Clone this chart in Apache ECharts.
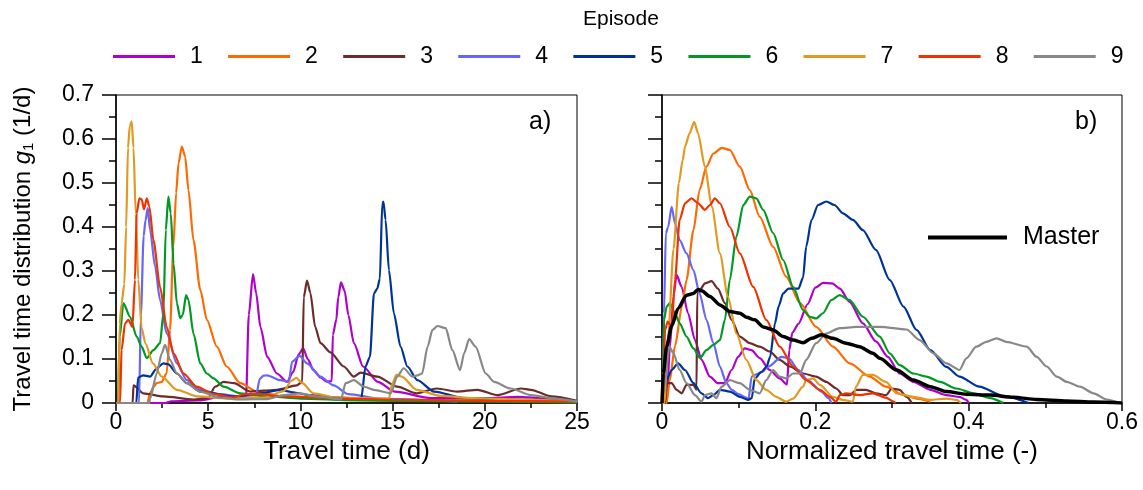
<!DOCTYPE html>
<html>
<head>
<meta charset="UTF-8">
<title>Travel time distributions</title>
<script src="https://cdn.jsdelivr.net/npm/echarts@6/dist/echarts.min.js"></script>
<style>
  html,body{margin:0;height:100%;background:#fff;}
  #chart{width:1143px;height:490px;}
</style>
</head>
<body>
<div id="chart"></div>
<script>
// episode names and colours
const episodes = ['1','2','3','4','5','6','7','8','9'];
const colors = ['#B000CC','#FF6A00','#6E2B2B','#6666FF','#003399','#009922','#E09A22','#EE3300','#888888'];

// panel a) travel time (d) vs g1 (1/d)
const ep1a = [[0,0],[2.7,0],[3,0.004],[4.5,0.006],[5.8,0.015],[6.5,0.015],[7.05,0.01],[7.2,0.2],[7.43,0.293],[7.6,0.25],[7.83,0.173],[8.2,0.105],[8.73,0.067],[9.28,0.048],[9.6,0.07],[9.9,0.11],[10.15,0.124],[10.4,0.1],[10.7,0.075],[11.1,0.058],[11.45,0.048],[11.7,0.05],[11.76,0.155],[11.95,0.19],[12.05,0.24],[12.2,0.274],[12.4,0.255],[12.6,0.2],[12.9,0.136],[13.4,0.083],[14.2,0.048],[15.1,0.026],[17.1,0.011],[20,0.011],[21.8,0.014],[23.4,0.01],[25,0.004]];
const ep2a = [[0,0],[1.7,0],[1.85,0.023],[2.05,0.037],[2.2,0.045],[2.48,0.048],[2.75,0.068],[2.93,0.166],[3.11,0.355],[3.26,0.477],[3.39,0.545],[3.57,0.583],[3.75,0.56],[3.93,0.484],[4.2,0.37],[4.57,0.257],[4.93,0.189],[5.47,0.128],[6.0,0.083],[6.74,0.045],[7.65,0.026],[9.1,0.015],[12,0.01],[16,0.007],[20,0.005],[25,0.002]];
const ep3a = [[0,0],[0.9,0],[0.95,0.04],[1.48,0.022],[2.57,0.015],[4.2,0.008],[5.0,0.012],[5.38,0.037],[5.83,0.048],[6.4,0.045],[7.28,0.026],[8.0,0.028],[8.73,0.03],[9.8,0.04],[10.1,0.048],[10.18,0.24],[10.36,0.278],[10.54,0.25],[10.8,0.173],[11.09,0.136],[11.63,0.115],[12.35,0.083],[12.9,0.06],[13.26,0.069],[14.17,0.06],[15.25,0.037],[16.3,0.022],[17.4,0.033],[18.5,0.026],[19.6,0.03],[20.7,0.018],[21.96,0.033],[22.5,0.03],[23.6,0.015],[25,0.005]];
const ep4a = [[0,0],[1.25,0],[1.35,0.2],[1.5,0.38],[1.6,0.415],[1.72,0.443],[1.85,0.393],[2.12,0.31],[2.39,0.234],[2.75,0.158],[3.3,0.09],[3.84,0.052],[4.57,0.03],[5.65,0.02],[6.74,0.015],[7.6,0.018],[7.8,0.055],[8.0,0.062],[8.2,0.063],[8.9,0.052],[9.37,0.048],[9.55,0.094],[9.96,0.107],[10.36,0.09],[11.09,0.06],[11.8,0.04],[12.6,0.02],[14.3,0.01],[17.8,0.005],[18.5,0.003]];
const ep5a = [[0,0],[1.1,0],[1.2,0.058],[1.48,0.063],[1.85,0.06],[2.21,0.079],[2.57,0.09],[2.84,0.088],[3.3,0.067],[3.84,0.045],[4.57,0.026],[6.4,0.015],[7.83,0.022],[8.9,0.03],[9.5,0.025],[10.5,0.018],[12,0.012],[13.3,0.01],[13.53,0.083],[13.77,0.105],[13.99,0.249],[14.17,0.26],[14.31,0.283],[14.44,0.454],[14.5,0.458],[14.62,0.416],[14.8,0.302],[15.07,0.204],[15.43,0.128],[15.8,0.083],[16.34,0.052],[17.25,0.026],[18.9,0.011],[21.6,0.008],[25,0.004]];
const ep6a = [[0,0],[0.1,0],[0.2,0.15],[0.4,0.227],[0.76,0.196],[1.12,0.151],[1.39,0.128],[1.67,0.102],[2.03,0.12],[2.39,0.136],[2.57,0.204],[2.7,0.393],[2.84,0.469],[2.97,0.431],[3.12,0.317],[3.3,0.227],[3.48,0.193],[3.62,0.2],[3.8,0.245],[3.93,0.234],[4.2,0.158],[4.57,0.09],[4.93,0.067],[5.29,0.056],[5.83,0.037],[6.74,0.022],[8.2,0.015],[10,0.01],[13,0.006],[17,0.004],[25,0.001]];
const ep7a = [[0,0],[0.12,0],[0.2,0.18],[0.3,0.225],[0.45,0.27],[0.55,0.4],[0.65,0.58],[0.75,0.63],[0.85,0.64],[0.95,0.58],[1.07,0.43],[1.21,0.28],[1.39,0.17],[1.6,0.135],[2.0,0.09],[2.48,0.06],[3.3,0.03],[4.4,0.015],[6,0.01],[8,0.012],[9.1,0.027],[9.5,0.05],[9.78,0.057],[10.1,0.045],[10.7,0.022],[12,0.012],[14.8,0.01],[14.95,0.04],[15.2,0.064],[15.5,0.06],[16.3,0.03],[17.6,0.016],[19.4,0.011],[22,0.008],[25,0.004]];
const ep8a = [[0,0],[0.22,0],[0.3,0.12],[0.49,0.181],[0.67,0.189],[0.89,0.173],[1.03,0.28],[1.12,0.431],[1.27,0.465],[1.39,0.463],[1.52,0.44],[1.67,0.465],[1.81,0.446],[2.03,0.37],[2.39,0.264],[2.75,0.173],[3.12,0.113],[3.66,0.067],[4.38,0.037],[5.29,0.02],[6.37,0.013],[7.0,0.02],[7.8,0.02],[9,0.015],[12,0.01],[16,0.007],[20,0.005],[25,0.003]];
const ep9a = [[0,0],[1.8,0],[1.85,0.01],[2.21,0.067],[2.48,0.113],[2.66,0.132],[2.93,0.098],[3.3,0.067],[3.84,0.045],[4.57,0.026],[5.65,0.012],[6.74,0.008],[8.2,0.009],[9.1,0.018],[10,0.022],[10.9,0.015],[12.2,0.008],[12.45,0.045],[12.9,0.052],[13.44,0.037],[13.99,0.03],[14.9,0.022],[15.25,0.06],[15.6,0.079],[16.07,0.06],[16.34,0.063],[16.6,0.067],[16.9,0.128],[17.16,0.166],[17.43,0.175],[17.88,0.17],[18.24,0.12],[18.66,0.075],[18.88,0.113],[19.15,0.145],[19.5,0.128],[20.05,0.067],[20.5,0.048],[21.4,0.033],[22.5,0.018],[23.8,0.01],[25,0.003]];

// panel b) normalized travel time (-) vs g1
const ep1b = [[0,0],[0.006,0],[0.0104,0.128],[0.015,0.242],[0.019,0.291],[0.0256,0.264],[0.034,0.204],[0.043,0.143],[0.0516,0.098],[0.0625,0.06],[0.073,0.045],[0.082,0.045],[0.0907,0.075],[0.0993,0.105],[0.108,0.124],[0.1167,0.12],[0.1275,0.102],[0.1406,0.075],[0.1536,0.056],[0.163,0.042],[0.166,0.12],[0.17,0.16],[0.178,0.18],[0.19,0.225],[0.2,0.262],[0.21,0.273],[0.222,0.272],[0.232,0.26],[0.2447,0.23],[0.262,0.181],[0.279,0.14],[0.2946,0.105],[0.31,0.067],[0.328,0.048],[0.35,0.03],[0.371,0.018],[0.388,0.014],[0.397,0.007],[0.4,0]];
const ep2b = [[0,0],[0.006,0],[0.01,0.05],[0.017,0.13],[0.026,0.22],[0.032,0.28],[0.041,0.393],[0.049,0.484],[0.058,0.537],[0.067,0.567],[0.078,0.58],[0.0885,0.575],[0.1015,0.537],[0.1145,0.484],[0.1275,0.423],[0.145,0.355],[0.162,0.287],[0.18,0.227],[0.201,0.173],[0.223,0.128],[0.245,0.09],[0.271,0.06],[0.292,0.037],[0.315,0.018],[0.332,0.01],[0.35,0.003]];
const ep3b = [[0,0],[0.004,0],[0.006,0.045],[0.0126,0.045],[0.019,0.03],[0.0256,0.022],[0.032,0.041],[0.041,0.041],[0.045,0.03],[0.046,0.25],[0.0495,0.257],[0.056,0.272],[0.0646,0.277],[0.073,0.26],[0.082,0.227],[0.0907,0.189],[0.1015,0.151],[0.1145,0.136],[0.1275,0.128],[0.1406,0.117],[0.1536,0.098],[0.1666,0.083],[0.184,0.067],[0.201,0.06],[0.2143,0.048],[0.2273,0.033],[0.236,0.018],[0.245,0.018],[0.2534,0.03],[0.266,0.03],[0.279,0.022],[0.2925,0.018],[0.2996,0.033],[0.31,0.03],[0.319,0.014],[0.326,0]];
const ep4b = [[0,0],[0.001,0],[0.0026,0.204],[0.005,0.386],[0.008,0.4],[0.0126,0.446],[0.017,0.408],[0.023,0.37],[0.032,0.34],[0.041,0.302],[0.049,0.249],[0.058,0.189],[0.067,0.136],[0.0755,0.083],[0.084,0.045],[0.091,0.03],[0.1,0.02],[0.11,0.012],[0.1126,0.007],[0.117,0.06],[0.121,0.064],[0.13,0.07],[0.139,0.083],[0.156,0.105],[0.165,0.102],[0.178,0.075],[0.19,0.052],[0.208,0.026],[0.217,0.011],[0.221,0]];
const ep5b = [[0,0],[0.002,0],[0.006,0.052],[0.0126,0.075],[0.021,0.09],[0.03,0.075],[0.041,0.045],[0.0516,0.022],[0.06,0.011],[0.067,0.018],[0.0755,0.03],[0.0885,0.026],[0.1015,0.014],[0.1124,0.007],[0.117,0.011],[0.121,0.056],[0.13,0.071],[0.1365,0.083],[0.141,0.105],[0.1474,0.181],[0.152,0.219],[0.158,0.249],[0.165,0.26],[0.178,0.26],[0.184,0.285],[0.188,0.355],[0.195,0.416],[0.2035,0.45],[0.2143,0.458],[0.225,0.45],[0.236,0.431],[0.249,0.416],[0.262,0.393],[0.279,0.348],[0.297,0.28],[0.315,0.219],[0.332,0.166],[0.35,0.12],[0.371,0.082],[0.388,0.06],[0.414,0.037],[0.445,0.016],[0.478,0]];
const ep6b = [[0,0],[0.001,0],[0.0026,0.189],[0.006,0.219],[0.0104,0.227],[0.017,0.204],[0.023,0.181],[0.032,0.151],[0.041,0.124],[0.0495,0.102],[0.058,0.12],[0.067,0.132],[0.0755,0.143],[0.082,0.189],[0.0885,0.28],[0.097,0.378],[0.106,0.45],[0.1145,0.469],[0.123,0.465],[0.132,0.439],[0.145,0.386],[0.158,0.325],[0.171,0.264],[0.184,0.211],[0.1926,0.196],[0.201,0.192],[0.21,0.204],[0.2208,0.234],[0.2317,0.245],[0.2447,0.234],[0.262,0.196],[0.284,0.151],[0.297,0.113],[0.31,0.086],[0.328,0.067],[0.345,0.06],[0.3626,0.048],[0.384,0.033],[0.406,0.022],[0.428,0.011],[0.445,0]];
const ep7b = [[0,0],[0.003,0],[0.008,0.15],[0.015,0.35],[0.022,0.5],[0.027,0.552],[0.03,0.583],[0.036,0.613],[0.042,0.639],[0.047,0.613],[0.056,0.537],[0.065,0.446],[0.0755,0.34],[0.086,0.242],[0.097,0.158],[0.11,0.098],[0.123,0.052],[0.136,0.03],[0.149,0.014],[0.162,0.003],[0.171,0.01],[0.184,0.037],[0.188,0.052],[0.197,0.056],[0.206,0.041],[0.223,0.014],[0.236,0.007],[0.249,0.003],[0.253,0.037],[0.262,0.064],[0.275,0.064],[0.292,0.048],[0.306,0.022],[0.328,0.014],[0.35,0.007],[0.371,0.01],[0.384,0.007],[0.39,0]];
const ep8b = [[0,0],[0.001,0],[0.004,0.166],[0.0074,0.185],[0.0126,0.173],[0.017,0.28],[0.023,0.416],[0.03,0.454],[0.0386,0.465],[0.047,0.454],[0.056,0.439],[0.0625,0.45],[0.069,0.465],[0.0755,0.454],[0.0885,0.4],[0.1015,0.34],[0.119,0.264],[0.136,0.189],[0.1536,0.128],[0.171,0.083],[0.188,0.052],[0.206,0.03],[0.219,0.014],[0.227,0.003],[0.232,0.018],[0.24,0.022],[0.258,0.018],[0.275,0.022],[0.292,0.012],[0.302,0.003],[0.305,0]];
const ep9b = [[0,0],[0.004,0.052],[0.0095,0.128],[0.015,0.113],[0.023,0.075],[0.032,0.045],[0.043,0.018],[0.0516,0.003],[0.056,0.018],[0.0646,0.022],[0.071,0.011],[0.0777,0.037],[0.0885,0.052],[0.1015,0.045],[0.1145,0.03],[0.1275,0.022],[0.136,0.052],[0.145,0.075],[0.1536,0.06],[0.162,0.056],[0.171,0.067],[0.18,0.067],[0.188,0.098],[0.201,0.136],[0.2143,0.158],[0.2317,0.17],[0.2534,0.173],[0.284,0.173],[0.319,0.167],[0.336,0.143],[0.354,0.113],[0.371,0.09],[0.388,0.075],[0.397,0.1015],[0.41,0.128],[0.423,0.139],[0.4365,0.147],[0.449,0.139],[0.4757,0.128],[0.4887,0.105],[0.5017,0.083],[0.515,0.06],[0.528,0.048],[0.545,0.037],[0.563,0.022],[0.58,0.008],[0.5976,0]];
const master = [[0,0],[0.0017,0.067],[0.006,0.128],[0.0126,0.175],[0.021,0.215],[0.032,0.245],[0.041,0.249],[0.047,0.258],[0.0516,0.255],[0.0625,0.242],[0.0755,0.223],[0.0885,0.208],[0.1015,0.204],[0.11,0.195],[0.121,0.189],[0.132,0.173],[0.145,0.166],[0.158,0.151],[0.171,0.143],[0.184,0.137],[0.195,0.147],[0.2078,0.155],[0.223,0.147],[0.24,0.136],[0.2577,0.128],[0.275,0.113],[0.284,0.1015],[0.306,0.075],[0.328,0.052],[0.35,0.037],[0.371,0.026],[0.397,0.02],[0.428,0.018],[0.458,0.013],[0.489,0.008],[0.528,0.0045],[0.5626,0.002],[0.6,0]];

const panelA = [ep1a,ep2a,ep3a,ep4a,ep5a,ep6a,ep7a,ep8a,ep9a];
const panelB = [ep1b,ep2b,ep3b,ep4b,ep5b,ep6b,ep7b,ep8b,ep9b];

const chart = echarts.init(document.getElementById('chart'));
const FONT = 'Liberation Sans, Arial, sans-serif';

function lineSeries(name, data, idx, color, width){
  return {
    name, type:'line', xAxisIndex:idx, yAxisIndex:idx, data,
    showSymbol:false, symbol:'none', smooth:0.25, smoothMonotone:'x',
    lineStyle:{color, width}, itemStyle:{color}, animation:false
  };
}

const series = [];
episodes.forEach((e,i)=>series.push(lineSeries(e, panelA[i], 0, colors[i], 2.2)));
episodes.forEach((e,i)=>series.push(lineSeries(e, panelB[i], 1, colors[i], 2.2)));
series.push(lineSeries('Master', master, 1, '#000', 3.5));

const axisCommon = {
  axisLine:{onZero:false, lineStyle:{color:'#000', width:1.5}},
  axisTick:{inside:false, length:14, lineStyle:{color:'#000', width:1.5}},
  minorTick:{show:true, splitNumber:2, length:7, lineStyle:{color:'#000', width:1.5}},
  splitLine:{show:false},
  axisLabel:{color:'#000', fontSize:23, fontFamily:FONT}
};
// x axes: shorter ticks so they stay clear of the labels
const xTicks = {
  axisTick:{inside:false, length:8, lineStyle:{color:'#000', width:1.5}},
  minorTick:{show:true, splitNumber:2, length:5, lineStyle:{color:'#000', width:1.5}}
};
const titleStyle = {fontSize:26, color:'#000', fontFamily:FONT};

chart.setOption({
  backgroundColor:'#fff',
  textStyle:{fontFamily:FONT},
  graphic:[
    {type:'text', left:583, top:9, style:{text:'Episode', fontSize:21, fontFamily:FONT, fill:'#000'}},
    {type:'text', left:529, top:110, style:{text:'a)', fontSize:25, fontFamily:FONT, fill:'#000'}},
    {type:'text', left:1075, top:110, style:{text:'b)', fontSize:25, fontFamily:FONT, fill:'#000'}}
  ],
  legend:[
    {data:episodes, left:108, top:40, icon:'rect', itemWidth:62, itemHeight:3, itemGap:25.3,
     textStyle:{fontSize:23, color:'#000', fontFamily:FONT, padding:[0,0,0,10]}, selectedMode:false},
    {data:['Master'], left:923, top:220, icon:'rect', itemWidth:79, itemHeight:4,
     textStyle:{fontSize:25, color:'#000', fontFamily:FONT, padding:[0,0,0,11]}, selectedMode:false}
  ],
  grid:[
    {left:116, right:566, top:95, bottom:87, show:true, borderColor:'#000', borderWidth:1},
    {left:662, right:21, top:95, bottom:87, show:true, borderColor:'#000', borderWidth:1}
  ],
  xAxis:[
    Object.assign({}, axisCommon, xTicks, {type:'value', gridIndex:0, min:0, max:25, interval:5,
      name:'Travel time (d)', nameLocation:'middle', nameGap:32, nameTextStyle:titleStyle,
      axisLabel:Object.assign({}, axisCommon.axisLabel, {margin:8})}),
    Object.assign({}, axisCommon, xTicks, {type:'value', gridIndex:1, min:0, max:0.6, interval:0.2,
      name:'Normalized travel time (-)', nameLocation:'middle', nameGap:32, nameTextStyle:titleStyle,
      axisLabel:Object.assign({}, axisCommon.axisLabel, {margin:8})})
  ],
  yAxis:[
    Object.assign({}, axisCommon, {type:'value', gridIndex:0, min:0, max:0.7, interval:0.1,
      name:'{n|Travel time distribution }{g|g}{s|1}{n| (1/d)}', nameLocation:'middle', nameGap:80, nameRotate:90,
      nameTextStyle:{color:'#000', fontFamily:FONT,
        rich:{n:{fontSize:24, fontFamily:FONT, color:'#000'},
              g:{fontSize:24, fontStyle:'italic', fontFamily:FONT, color:'#000'},
              s:{fontSize:15, fontFamily:FONT, color:'#000', padding:[10,0,0,0]}}},
      axisLabel:Object.assign({}, axisCommon.axisLabel, {margin:22})}),
    Object.assign({}, axisCommon, {type:'value', gridIndex:1, min:0, max:0.7, interval:0.1,
      axisLabel:{show:false}})
  ],
  series
});
</script>
</body>
</html>
